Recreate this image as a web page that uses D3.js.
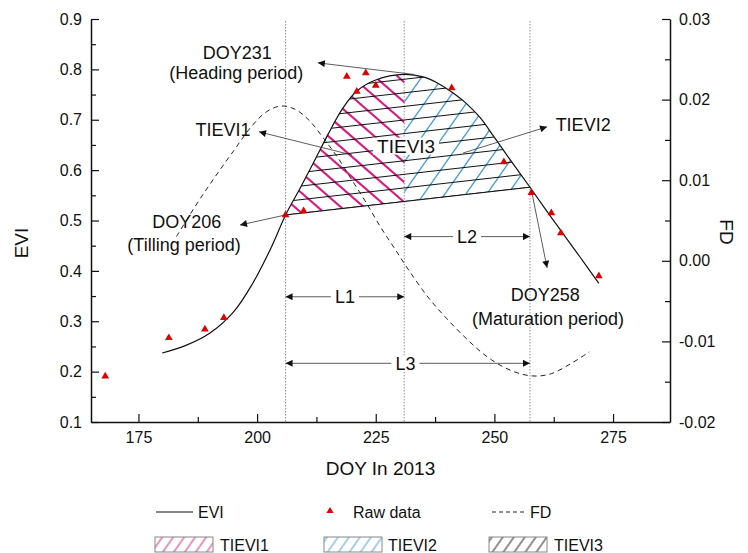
<!DOCTYPE html>
<html>
<head>
<meta charset="utf-8">
<script src="https://cdn.jsdelivr.net/npm/d3@7"></script>
<style>
  body { margin: 0; background: #fff; }
  svg { font-family: "Liberation Sans", Arial, sans-serif; }
</style>
</head>
<body>
<svg id="chart" width="748" height="553"></svg>
<script>
// fitted EVI curve (DOY, EVI)
const eviDoy = [180, 185, 190, 195, 199, 203, 206, 209, 212, 215, 218, 221, 225, 231, 235, 238, 241, 244, 247, 250, 253, 257.5, 261, 264, 268, 272];
const eviVal = [0.237, 0.252, 0.276, 0.318, 0.374, 0.447, 0.511, 0.563, 0.617, 0.672, 0.722, 0.757, 0.779, 0.790, 0.785, 0.773, 0.755, 0.733, 0.704, 0.665, 0.625, 0.566, 0.519, 0.480, 0.428, 0.375];

// raw observations
const rawDoy = [168, 181.4, 189, 193, 206, 209.8, 218.9, 221, 222.9, 225, 241, 252, 257.8, 262, 264, 272];
const rawVal = [0.191, 0.267, 0.284, 0.307, 0.511, 0.519, 0.786, 0.756, 0.793, 0.768, 0.763, 0.616, 0.555, 0.515, 0.475, 0.39];

// first derivative (right axis)
const fdDoy = [183, 187, 191, 195, 199, 202, 205, 208, 211, 214, 217, 220, 223, 226, 229, 232, 236, 240, 244, 248, 252, 256, 259, 262, 266, 270];
const fdVal = [0.003, 0.0068, 0.0103, 0.0136, 0.0168, 0.0185, 0.0192, 0.0188, 0.0174, 0.0152, 0.0128, 0.0100, 0.0072, 0.0042, 0.0015, -0.0012, -0.0045, -0.0072, -0.0096, -0.0117, -0.0132, -0.0141, -0.0143, -0.0140, -0.0128, -0.0113];

// tilling, heading, maturation
const phenoDoy = [206, 231, 257.5];
const phenoName = ["DOY206", "DOY231", "DOY258"];
const phenoStage = ["(Tilling period)", "(Heading period)", "(Maturation period)"];

const xTicks = [175, 200, 225, 250, 275];
const xMinor = [187.5, 212.5, 237.5, 262.5];
const eviTicks = [0.1, 0.2, 0.3, 0.4, 0.5, 0.6, 0.7, 0.8, 0.9];
const eviMinor = [0.15, 0.25, 0.35, 0.45, 0.55, 0.65, 0.75, 0.85];
const fdTicks = [-0.02, -0.01, 0, 0.01, 0.02, 0.03];
const fdMinor = [-0.015, -0.005, 0.005, 0.015, 0.025];

const evi = eviDoy.map((d, i) => ({ doy: d, v: eviVal[i] }));
const raw = rawDoy.map((d, i) => ({ doy: d, v: rawVal[i] }));
const fd = fdDoy.map((d, i) => ({ doy: d, v: fdVal[i] }));

const svg = d3.select("#chart");
const defs = svg.append("defs");

const x = d3.scaleLinear().domain([165, 287]).range([91, 670]);
const yL = d3.scaleLinear().domain([0.1, 0.9]).range([422, 19]);
const yR = d3.scaleLinear().domain([-0.02, 0.03]).range([422, 19]);

const eviAt = (doy) => evi.find((d) => d.doy === doy).v;
const b0 = phenoDoy[0], b1 = phenoDoy[2];
const e0 = eviAt(b0), e1 = eviAt(b1);
const base = (doy) => e0 + ((doy - b0) * (e1 - e0)) / (b1 - b0);

// clip regions: area between curve and baseline, split by DOY
const area = d3.area()
  .x((d) => x(d.doy))
  .y0((d) => yL(base(d.doy)))
  .y1((d) => yL(d.v))
  .curve(d3.curveCatmullRom);
defs.append("clipPath").attr("id", "cArea").append("path").datum(evi).attr("d", area);

function clipX(id, d0, d1) {
  defs.append("clipPath").attr("id", id)
    .append("rect")
    .attr("x", x(d0)).attr("y", 0)
    .attr("width", x(d1) - x(d0)).attr("height", 553);
}
clipX("c1", phenoDoy[0], phenoDoy[1]);
clipX("c2", phenoDoy[1], phenoDoy[2]);
clipX("c3", phenoDoy[0], phenoDoy[2]);

// hatch line family through an anchor point
function hatchLines(clipId, angle, spacing, px, py, color, width) {
  const a = (angle * Math.PI) / 180;
  const dx = Math.cos(a), dy = Math.sin(a);
  const nx = -dy, ny = dx;
  svg.append("g").attr("clip-path", `url(#${clipId})`)
    .append("g").attr("clip-path", "url(#cArea)")
    .selectAll("line")
    .data(d3.range(-30, 31))
    .join("line")
    .attr("x1", (k) => px + k * spacing * nx - 400 * dx)
    .attr("y1", (k) => py + k * spacing * ny - 400 * dy)
    .attr("x2", (k) => px + k * spacing * nx + 400 * dx)
    .attr("y2", (k) => py + k * spacing * ny + 400 * dy)
    .attr("stroke", color)
    .attr("stroke-width", width);
}

// legend hatch patterns
function hatch(id, color) {
  const p = defs.append("pattern")
    .attr("id", id)
    .attr("patternUnits", "userSpaceOnUse")
    .attr("width", 9).attr("height", 20)
    .attr("patternTransform", "rotate(35)");
  [0, 9].forEach((k) => p.append("line").attr("x1", k).attr("x2", k).attr("y1", 0).attr("y2", 20));
  p.selectAll("line").attr("stroke", color).attr("stroke-width", 1);
}
hatch("lPink", "#d6287f");
hatch("lBlue", "#4a9fdc");
hatch("lBlack", "#222");

// vertical phenology lines
svg.append("g")
  .selectAll("line")
  .data(phenoDoy)
  .join("line")
  .attr("x1", (d) => x(d)).attr("x2", (d) => x(d))
  .attr("y1", 21).attr("y2", yL(0.1))
  .attr("stroke", "#777")
  .attr("stroke-width", 0.8)
  .attr("stroke-dasharray", "1.5,1.5");

const baseAngle = (Math.atan2(yL(e1) - yL(e0), x(b1) - x(b0)) * 180) / Math.PI;
const vx = x(phenoDoy[1]), vy = yL(0.735);
hatchLines("c1", 41, 15.1, vx, vy, "#d81b7f", 2.1);
hatchLines("c2", -55, 17.2, vx, vy, "#3f9be0", 1.3);
hatchLines("c3", baseAngle, 13.5, x(b0), yL(e0), "#111", 1);

// FD dashed curve
svg.append("path")
  .datum(fd)
  .attr("d", d3.line().x((d) => x(d.doy)).y((d) => yR(d.v)).curve(d3.curveCatmullRom))
  .attr("fill", "none")
  .attr("stroke", "#222")
  .attr("stroke-width", 1)
  .attr("stroke-dasharray", "5,4");

// baseline between tilling and maturation
svg.append("line")
  .attr("x1", x(b0)).attr("y1", yL(e0))
  .attr("x2", x(b1)).attr("y2", yL(e1))
  .attr("stroke", "#111").attr("stroke-width", 1.1);

// EVI curve
svg.append("path")
  .datum(evi)
  .attr("d", d3.line().x((d) => x(d.doy)).y((d) => yL(d.v)).curve(d3.curveCatmullRom))
  .attr("fill", "none")
  .attr("stroke", "#111")
  .attr("stroke-width", 1.2);

// raw data
svg.append("g")
  .selectAll("path")
  .data(raw)
  .join("path")
  .attr("d", d3.symbol(d3.symbolTriangle, 26))
  .attr("transform", (d) => `translate(${x(d.doy)},${yL(d.v)})`)
  .attr("fill", "#e00000");

// arrow markers
defs.append("marker")
  .attr("id", "arr")
  .attr("viewBox", "0 0 10 10")
  .attr("refX", 10).attr("refY", 5)
  .attr("markerUnits", "userSpaceOnUse")
  .attr("markerWidth", 10).attr("markerHeight", 7)
  .attr("orient", "auto-start-reverse")
  .append("path")
  .attr("d", "M0,0L10,5L0,10Z")
  .attr("fill", "#111");

const ann = svg.append("g");
function arrow(a, b, both) {
  ann.append("line")
    .attr("x1", x(a[0])).attr("y1", yL(a[1]))
    .attr("x2", x(b[0])).attr("y2", yL(b[1]))
    .attr("stroke", "#333").attr("stroke-width", 0.8)
    .attr("marker-end", "url(#arr)")
    .attr("marker-start", both ? "url(#arr)" : null);
}
function label(t, p, size, bg) {
  const el = ann.append("text")
    .attr("x", x(p[0])).attr("y", yL(p[1]))
    .attr("dy", "0.35em")
    .attr("text-anchor", "middle")
    .attr("font-size", size)
    .attr("fill", "#111")
    .text(t);
  if (bg) {
    const bb = el.node().getBBox();
    ann.insert("rect", () => el.node())
      .attr("x", bb.x - 4).attr("y", bb.y + 2)
      .attr("width", bb.width + 8).attr("height", bb.height - 4)
      .attr("fill", "#fff");
  }
}

arrow([233, eviAt(231)], [212.8, 0.813]);
label(phenoName[1], [195.8, 0.834], 18);
label(phenoStage[1], [195.6, 0.793], 18);

arrow([phenoDoy[0], e0], [196.4, 0.491]);
label(phenoName[0], [185.2, 0.497], 18);
label(phenoStage[0], [184.6, 0.451], 18);

arrow([257.8, 0.56], [261.1, 0.406]);
label(phenoName[2], [260.7, 0.352], 18);
label(phenoStage[2], [261.3, 0.306], 18);

arrow([220.0, 0.63], [200.4, 0.676]);
label("TIEVI1", [192.8, 0.680], 18);
arrow([243.4, 0.634], [261.1, 0.686]);
label("TIEVI2", [268.7, 0.690], 18);
label("TIEVI3", [231.4, 0.648], 19, true);

arrow([phenoDoy[0], 0.3486], [phenoDoy[1], 0.3486], true);
label("L1", [(phenoDoy[0] + phenoDoy[1]) / 2, 0.3486], 18, true);
arrow([phenoDoy[1], 0.468], [phenoDoy[2], 0.468], true);
label("L2", [(phenoDoy[1] + phenoDoy[2]) / 2, 0.468], 18, true);
arrow([phenoDoy[0], 0.2165], [phenoDoy[2], 0.2165], true);
label("L3", [(phenoDoy[0] + phenoDoy[2]) / 2 - 0.5, 0.2165], 18, true);

// axes
function styleAxis(g) {
  g.selectAll("path.domain").attr("stroke", "#111").attr("stroke-width", 1.5);
  g.selectAll(".tick line").attr("stroke", "#111").attr("stroke-width", 1.2);
  g.selectAll("text").attr("font-size", 16).attr("fill", "#111").attr("font-family", "Liberation Sans, Arial, sans-serif");
}
const bottom = svg.append("g").attr("transform", `translate(0,${yL(0.1)})`);
bottom.call(d3.axisBottom(x).tickValues(xTicks).tickSize(-8).tickSizeOuter(0).tickPadding(10)).call(styleAxis);
bottom.append("g").call(d3.axisBottom(x).tickValues(xMinor).tickSize(-5).tickFormat("")).call(styleAxis)
  .select(".domain").remove();

const left = svg.append("g").attr("transform", `translate(${x(165)},0)`);
left.call(d3.axisLeft(yL).tickValues(eviTicks).tickSize(-8).tickSizeOuter(0).tickPadding(9).tickFormat(d3.format(".1f"))).call(styleAxis);
left.append("g").call(d3.axisLeft(yL).tickValues(eviMinor).tickSize(-5).tickFormat("")).call(styleAxis)
  .select(".domain").remove();

const right = svg.append("g").attr("transform", `translate(${x(287)},0)`);
right.call(d3.axisRight(yR).tickValues(fdTicks).tickSize(-8).tickSizeOuter(0).tickPadding(9).tickFormat((d) => d.toFixed(2))).call(styleAxis);
right.append("g").call(d3.axisRight(yR).tickValues(fdMinor).tickSize(-5).tickFormat("")).call(styleAxis)
  .select(".domain").remove();

// axis titles
svg.append("text")
  .attr("x", (x(165) + x(287)) / 2).attr("y", 468).attr("dy", "0.35em")
  .attr("text-anchor", "middle").attr("font-size", 19).attr("fill", "#111")
  .text("DOY In 2013");
svg.append("text")
  .attr("transform", "translate(21,243) rotate(-90)").attr("dy", "0.35em")
  .attr("text-anchor", "middle").attr("font-size", 19).attr("fill", "#111")
  .text("EVI");
svg.append("text")
  .attr("transform", "translate(727,232) rotate(90)").attr("dy", "0.35em")
  .attr("text-anchor", "middle").attr("font-size", 19).attr("fill", "#111")
  .text("FD");

// legend
const lg = svg.append("g").attr("font-size", 16).attr("fill", "#111");
lg.append("line").attr("x1", 156).attr("x2", 193).attr("y1", 512).attr("y2", 512).attr("stroke", "#111").attr("stroke-width", 1.1);
lg.append("text").attr("x", 198).attr("y", 512).attr("dy", "0.35em").text("EVI");
lg.append("path").attr("d", d3.symbol(d3.symbolTriangle, 22)).attr("transform", "translate(330,511)").attr("fill", "#e00000");
lg.append("text").attr("x", 353).attr("y", 512).attr("dy", "0.35em").text("Raw data");
lg.append("line").attr("x1", 492).attr("x2", 525).attr("y1", 512).attr("y2", 512).attr("stroke", "#222").attr("stroke-dasharray", "4,3");
lg.append("text").attr("x", 530).attr("y", 512).attr("dy", "0.35em").text("FD");

[["lPink", 155, 220, "TIEVI1"], ["lBlue", 324, 388, "TIEVI2"], ["lBlack", 489, 554, "TIEVI3"]].forEach(([p, bx, tx, t]) => {
  lg.append("rect").attr("x", bx).attr("y", 537).attr("width", 58).attr("height", 15)
    .attr("fill", `url(#${p})`).attr("stroke", "#888").attr("stroke-width", 1);
  lg.append("text").attr("x", tx).attr("y", 545).attr("dy", "0.35em").text(t);
});
</script>
</body>
</html>
